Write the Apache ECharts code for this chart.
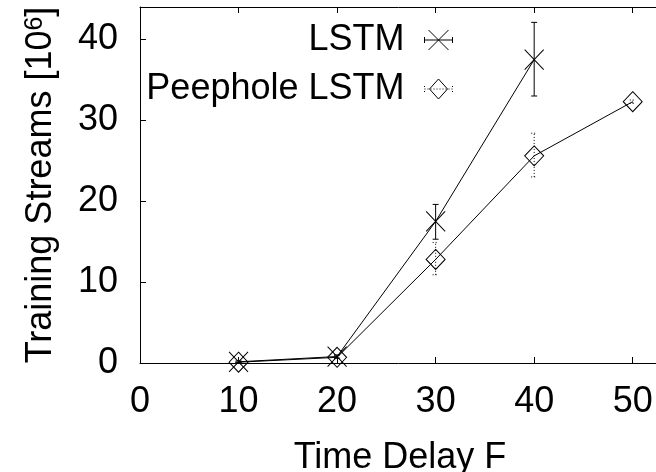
<!DOCTYPE html>
<html><head><meta charset="utf-8">
<script src="https://cdn.jsdelivr.net/npm/echarts@6/dist/echarts.min.js"></script>
<style>html,body{margin:0;padding:0;background:#fff}#c{width:656px;height:472px}</style>
</head><body><div id="c"></div>
<script>
// ---- data ----
const delays = [10, 20, 30, 40, 50];
const lstmMean = [0.15, 0.8, 17.5, 37.5];
const lstmLow  = [0.05, 0.6, 15.3, 33.0];
const lstmHigh = [0.25, 1.0, 19.6, 42.1];
const peepMean = [0.1, 0.7, 12.8, 25.6, 32.3];
const peepLow  = [0.05, 0.5, 10.9, 23.0, 32.1];
const peepHigh = [0.15, 0.9, 14.9, 28.4, 32.5];
const seriesNames = ['LSTM', 'Peephole LSTM'];
const xAxisName = 'Time Delay F';
const yAxisName = '{a|Training Streams [10}{s|6}{a|]}';

// ---- build ----
const FONT = 'Liberation Sans';
const FS = 36;
const lstmPts = lstmMean.map((v, i) => [delays[i], v]);
const peepPts = peepMean.map((v, i) => [delays[i], v]);
const lstmErr = lstmMean.map((v, i) => [delays[i], lstmLow[i], lstmHigh[i]]);
const peepErr = peepMean.map((v, i) => [delays[i], peepLow[i], peepHigh[i]]);

function errRenderer(dotted) {
  return function (params, api) {
    const x = api.value(0), lo = api.value(1), hi = api.value(2);
    const p1 = api.coord([x, lo]), p2 = api.coord([x, hi]);
    const hw = 3;
    const style = { stroke: '#000', lineWidth: 1, fill: null, lineDash: dotted ? [1, 2] : null };
    return { type: 'group', children: [
      { type: 'line', shape: { x1: p1[0], y1: p1[1], x2: p2[0], y2: p2[1] }, style: style },
      { type: 'line', shape: { x1: p1[0] - hw, y1: p1[1], x2: p1[0] + hw, y2: p1[1] }, style: style },
      { type: 'line', shape: { x1: p2[0] - hw, y1: p2[1], x2: p2[0] + hw, y2: p2[1] }, style: style }
    ]};
  };
}

const xSymbol = 'path://M0,0L10,10M10,0L0,10';
const lstmIcon = 'path://M0,7L0,13M0,10L28,10M28,7L28,13M4,0L24,20M24,0L4,20';
let dots = '';
for (let x = 0; x <= 27; x += 3) dots += 'M' + x + ',10L' + (x + 1) + ',10';
const peepIcon = 'path://M14,0L23,10L14,20L5,10Z' + dots + 'M0,7L0,8M0,12L0,13M28,7L28,8M28,12L28,13';

const axisLine = { show: true, lineStyle: { color: '#000', width: 1 } };
const tick = { show: true, inside: true, length: 6, lineStyle: { color: '#000', width: 1 } };
const legendItemStyle = { color: 'none', borderColor: '#000', borderWidth: 1 };

const option = {
  animation: false,
  backgroundColor: '#fff',
  grid: { left: 140, top: 7, width: 542, height: 356, containLabel: false, outerBoundsMode: 'none' },
  legend: {
    orient: 'vertical', right: 201, top: 22, align: 'right',
    itemWidth: 28, itemHeight: 20, itemGap: 13, padding: 0, selectedMode: false,
    textStyle: { fontSize: FS, fontFamily: FONT, color: '#000', lineHeight: 36, padding: [0, 15, 0, 0] },
    data: [
      { name: seriesNames[0], icon: lstmIcon, itemStyle: legendItemStyle },
      { name: seriesNames[1], icon: peepIcon, itemStyle: legendItemStyle }
    ]
  },
  xAxis: [{
    type: 'value', min: 0, max: 55, interval: 10, position: 'bottom',
    axisLine: axisLine, axisTick: tick, splitLine: { show: false },
    axisLabel: { fontSize: FS, fontFamily: FONT, color: '#000', margin: 21, showMaxLabel: false },
    name: xAxisName, nameLocation: 'middle', nameGap: 77, nameMoveOverlap: false,
    nameTextStyle: { fontSize: FS, fontFamily: FONT, color: '#000', padding: [0, 22, 0, 0] }
  }, {
    type: 'value', min: 0, max: 55, interval: 10, position: 'top',
    axisLine: axisLine, axisTick: tick, splitLine: { show: false }, axisLabel: { show: false }
  }],
  yAxis: [{
    type: 'value', min: 0, max: 44, interval: 10, position: 'left',
    axisLine: axisLine, axisTick: tick, splitLine: { show: false },
    axisLabel: { fontSize: FS, fontFamily: FONT, color: '#000', margin: 22, showMaxLabel: false },
    name: yAxisName, nameLocation: 'middle', nameGap: 81, nameMoveOverlap: false,
    nameTextStyle: {
      fontFamily: FONT, color: '#000',
      rich: {
        a: { fontSize: FS, fontFamily: FONT, color: '#000', lineHeight: 36, verticalAlign: 'bottom' },
        s: { fontSize: 25, fontFamily: FONT, color: '#000', lineHeight: 25, verticalAlign: 'top', padding: [0, 0, 34, 0] }
      }
    }
  }],
  series: [
    { type: 'custom', name: 'lstmErr', data: lstmErr, encode: { x: 0, y: [1, 2] }, renderItem: errRenderer(false), z: 3 },
    { type: 'custom', name: 'peepErr', data: peepErr, encode: { x: 0, y: [1, 2] }, renderItem: errRenderer(true), z: 3 },
    {
      type: 'line', name: seriesNames[0], data: lstmPts, symbol: xSymbol, symbolSize: [19, 20],
      lineStyle: { color: '#000', width: 1 }, itemStyle: { color: 'none', borderColor: '#000', borderWidth: 1 }, z: 4
    },
    {
      type: 'line', name: seriesNames[1], data: peepPts, symbol: 'diamond', symbolSize: [19, 20],
      lineStyle: { color: '#000', width: 1 }, itemStyle: { color: 'none', borderColor: '#000', borderWidth: 1 }, z: 4
    }
  ]
};
const chart = echarts.init(document.getElementById('c'), null, { renderer: 'canvas' });
chart.setOption(option);
</script>
</body></html>
